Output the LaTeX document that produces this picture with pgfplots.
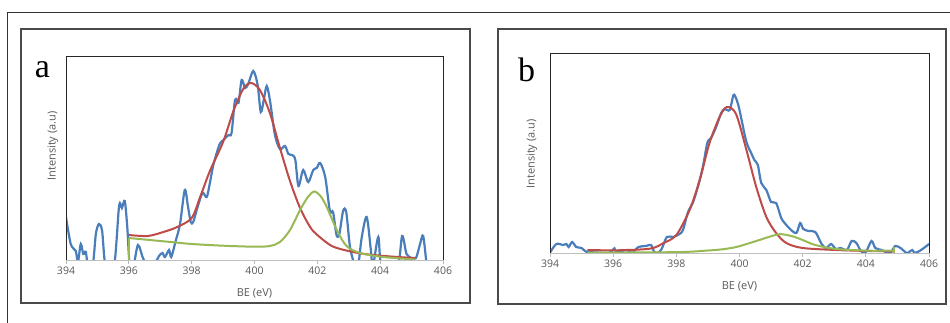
\documentclass[border=0pt]{standalone}
\usepackage{pgfplots}
\pgfplotsset{compat=1.18}
\usepackage{fontspec}
\setmainfont{Open Sans}
\newfontfamily\tnr{Liberation Serif}
\definecolor{xblue}{HTML}{4A7EBB}
\definecolor{xred}{HTML}{BE4B48}
\definecolor{xgreen}{HTML}{98B954}
\definecolor{txt}{HTML}{595959}
\definecolor{frm}{HTML}{4A4A4A}
\pgfplotsset{
 xpsaxis/.style={
  scale only axis,
  xmin=394, xmax=406, ymin=0,
  xtick={394,396,...,406},
  ytick=\empty,
  axis line style={draw=none},
  tick align=outside,
  xtick pos=left,
  major tick length=3.5pt,
  every tick/.style={draw=gray!55, line width=0.8pt},
  tick label style={font=\fontsize{10.5}{12}\selectfont, text=txt},
  /pgf/number format/assume math mode=true,
  /pgf/number format/1000 sep={},
  label style={font=\fontsize{11}{12}\selectfont, text=txt},
  xlabel={BE (eV)},
  ylabel={Intensity (a.u)},
  extra description/.code={
    \draw[gray!50, line width=0.9pt] (axis description cs:0,0) -- (axis description cs:1,0);
    \draw[black!85, line width=0.9pt] (axis description cs:0,0) -- (axis description cs:0,1) -- (axis description cs:1,1) -- (axis description cs:1,0);
  },
 },
 blue/.style={xblue, line width=2.2pt, smooth, tension=0.5},
 red/.style={xred, line width=2pt, smooth, tension=0.5},
 green/.style={xgreen, line width=2pt, smooth, tension=0.5},
}
\begin{document}
\begin{tikzpicture}[x=1pt,y=1pt]
\path[use as bounding box] (0pt,0pt) rectangle (950pt,322pt);
\draw[black!80, line width=1pt] (7pt,-3pt) -- (7pt,309pt) -- (953pt,309pt);
\draw[frm, line width=1.3pt] (21pt,19pt) rectangle (470pt,293pt);
\draw[frm, line width=1.3pt] (498pt,18pt) rectangle (946pt,293pt);
\node[font=\tnr\fontsize{34}{34}\selectfont, anchor=base] at (42.5pt,244pt) {a};
\node[font=\tnr\fontsize{34}{34}\selectfont, anchor=base] at (526.7pt,240.5pt) {b};

\begin{axis}[xpsaxis, at={(66pt,62pt)}, anchor=south west, width=377pt, height=204pt, ymax=204,
  xlabel style={at={(axis description cs:0.5,-0.163)}, anchor=center},
  ylabel style={at={(axis description cs:-0.0345,0.559)}, anchor=center}]
\addplot[blue] table {
394.00 43
394.15 16
394.31 9
394.38 -2
394.47 16
394.55 6
394.63 8
394.70 -6
394.85 -6
394.95 26
395.05 36
395.15 29
395.26 -6
395.53 -6
395.69 54
395.78 52
395.87 59
395.95 33
396.03 -6
396.15 -6
396.29 15
396.45 2
396.60 -6
396.85 -2
396.96 4
397.07 7
397.15 3
397.28 10
397.35 3
397.49 19
397.63 36
397.78 70
397.88 54
397.97 38
398.05 38
398.16 50
398.30 64
398.37 67
398.48 63
398.58 77
398.69 95
398.88 115
399.01 120
399.17 125
399.27 127
399.38 160
399.49 157
399.59 180
399.70 172
399.80 176
399.96 189
400.10 175
400.20 148
400.30 161
400.39 174
400.50 158
400.65 125
400.81 111
400.97 114
401.08 106
401.20 105
401.30 100
401.40 74
401.55 90
401.71 78
401.87 90
401.98 92
402.09 97
402.25 83
402.40 49
402.50 48
402.61 25
402.70 26
402.82 49
402.92 48
403.04 13
403.20 -6
403.30 -6
403.41 22
403.57 43
403.70 11
403.77 -6
403.94 23
404.05 -6
404.55 -6
404.70 24
404.84 6
405.00 2
405.14 2
405.27 16
405.37 24
405.48 -6
};
\addplot[red] table {
396.00 25
396.60 24
397.10 28
397.54 33
398.00 42
398.27 63
398.58 89
399.00 118
399.33 149
399.64 171
399.89 177
400.17 170
400.49 147
400.81 112
401.13 79
401.45 52
401.77 33
402.00 25
402.46 14
402.99 9
403.50 6
404.03 4.3
404.56 3
405.10 2
};
\addplot[green] table {
396.00 22
396.50 20.5
397.00 19
397.50 17.5
398.00 16
399.00 14.3
400.00 13.3
400.49 14
400.81 18
401.13 30
401.45 50
401.70 63
401.90 68.5
402.10 64
402.30 53
402.62 30
402.93 14
403.36 7
404.10 3
405.10 0.5
};
\addplot[xgreen, line width=2pt] coordinates {(396,0) (396,22)};
\end{axis}

\begin{axis}[xpsaxis, at={(550pt,69pt)}, anchor=south west, width=379pt, height=200pt, ymax=200,
  xlabel style={at={(axis description cs:0.5,-0.168)}, anchor=center},
  ylabel style={at={(axis description cs:-0.0475,0.495)}, anchor=center}]
\addplot[blue] table {
394.00 0.5
394.20 9
394.41 8
394.52 9
394.59 6
394.70 11
394.83 6
395.00 5
395.15 1.3
395.50 0.5
395.87 0
396.04 4.7
396.10 1
396.44 3
396.60 0
396.80 6
397.04 7
397.20 8
397.30 1
397.43 0.5
397.54 4.3
397.70 16
397.90 16
398.10 19
398.21 23
398.37 41
398.52 50
398.68 66
398.84 86
398.98 110
399.10 115
399.26 126
399.42 140
399.53 144
399.69 143
399.81 158
399.90 154
400.00 143
400.21 112
400.37 100
400.47 93
400.58 88
400.69 70
400.85 63
401.00 51
401.16 50
401.32 35
401.43 30
401.60 24
401.80 20
401.92 30
402.02 24
402.19 22
402.40 21
402.60 9
402.75 5
402.90 9
403.05 4
403.20 5
403.40 3
403.55 12
403.70 10
403.85 1.7
404.00 1
404.18 12
404.30 5
404.50 3
404.65 0.7
404.80 1
404.93 7
405.10 5
405.30 0
405.47 3
405.55 0
405.75 3
406.00 9
};
\addplot[red] table {
395.18 3
396.10 2.7
397.16 4.3
397.58 9.7
398.00 18
398.42 43
398.74 73
399.05 110
399.37 136
399.60 146
399.89 139
400.22 103
400.53 66
400.85 36
401.16 20
401.48 10
402.00 5
403.06 3
404.10 2
404.90 1.7
};
\addplot[green] table {
395.18 0.5
396.50 0.5
398.20 1
399.00 2.5
399.40 3.5
399.90 6
400.53 12
401.20 18.5
401.50 18
401.75 16
402.00 13
402.40 8
403.06 4
404.10 2.3
404.90 2.5
};
\addplot[xgreen, line width=2pt] coordinates {(404.9,0.5) (404.9,6)};
\end{axis}
\end{tikzpicture}
\end{document}
